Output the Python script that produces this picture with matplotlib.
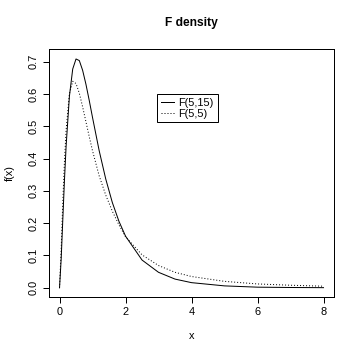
import numpy as np
import matplotlib
matplotlib.use('Agg')
import matplotlib.pyplot as plt

plt.rcParams['font.family'] = ['Liberation Sans', 'DejaVu Sans']

# values
x_vals = [0.0, 0.05, 0.1, 0.15, 0.2, 0.3, 0.4, 0.5, 0.6, 0.7, 0.8, 0.9, 1.0, 1.2, 1.4,
          1.6, 1.8, 2.0, 2.5, 3.0, 3.5, 4.0, 5.0, 6.0, 7.0, 8.0]
f_5_15 = [0.0, 0.089, 0.213, 0.334, 0.439, 0.593, 0.677, 0.708, 0.703, 0.673, 0.630, 0.580,
          0.527, 0.425, 0.337, 0.264, 0.206, 0.160, 0.086, 0.048, 0.027, 0.016, 0.006,
          0.002, 0.001, 0.0005]
f_5_5 = [0.0, 0.119, 0.267, 0.392, 0.488, 0.601, 0.639, 0.632, 0.602, 0.560, 0.514, 0.468,
         0.424, 0.347, 0.287, 0.237, 0.195, 0.158, 0.102, 0.069, 0.048, 0.035, 0.020,
         0.012, 0.008, 0.005]
legend_labels = ['F(5,15)', 'F(5,5)']

fig = plt.figure(figsize=(5, 5), dpi=72)
ax = fig.add_axes([0.136, 0.175, 0.792, 0.689])

ax.plot(x_vals, f_5_15, color='black', lw=1, label=legend_labels[0])
ax.plot(x_vals, f_5_5, color='black', lw=1, linestyle=(0, (1, 2)), label=legend_labels[1])

ax.set_xlim(-0.32, 8.32)
ax.set_ylim(-0.0284, 0.739)
ax.set_xticks([0, 2, 4, 6, 8])
ax.set_yticks([0.0, 0.1, 0.2, 0.3, 0.4, 0.5, 0.6, 0.7])
ax.set_yticklabels(['0.0', '0.1', '0.2', '0.3', '0.4', '0.5', '0.6', '0.7'],
                   rotation=90, va='center')
ax.tick_params(direction='out', length=6, width=1, labelsize=11, pad=4)
for s in ax.spines.values():
    s.set_linewidth(1)

ax.set_title('F density', fontsize=12, fontweight='bold', pad=23)
ax.set_xlabel('x', fontsize=11, labelpad=14)
ax.set_ylabel('f(x)', fontsize=11, labelpad=14)

leg = ax.legend(loc='upper left', bbox_to_anchor=(0.36, 0.84), fontsize=11,
                handlelength=1.2, handletextpad=0.4, borderpad=0.35,
                labelspacing=0.05, fancybox=False, framealpha=1)
leg.get_frame().set_edgecolor('black')
leg.get_frame().set_linewidth(1)

fig.savefig('out.png', dpi=72)
